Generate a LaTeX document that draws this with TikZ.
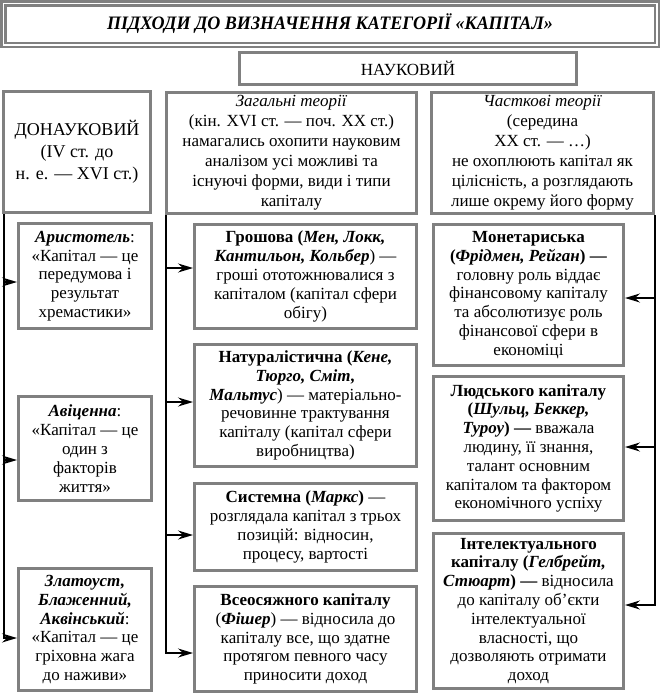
\documentclass[tikz,border=0pt]{standalone}
\usepackage{fontspec}
\setmainfont{Liberation Serif}
\usetikzlibrary{arrows.meta}
\definecolor{boxgray}{RGB}{128,128,128}
\begin{document}
\begin{tikzpicture}[x=1pt,y=-1pt,
  box/.style={draw=boxgray,line width=3pt,fill=white,align=center,inner sep=1pt,font=\fontsize{17}{18.8}\selectfont},
  head/.style={box,font=\fontsize{17}{20}\selectfont},
  conn/.style={-{Stealth[length=15pt,width=9pt,inset=5pt]},line width=1.4pt}]
 \useasboundingbox (0,0) rectangle (660,696);
 \node[draw=boxgray,line width=2.5pt,double=white,double distance=1.5pt,minimum width=653.5,minimum height=41.5,font=\fontsize{19}{22}\selectfont\bfseries\itshape] (title) at (330,24) {\scalebox{0.95}[1]{ПІДХОДИ ДО ВИЗНАЧЕННЯ КАТЕГОРІЇ «КАПІТАЛ»}};
 \node[head,minimum width=337,minimum height=32] (nauk) at (408,68.5) {НАУКОВИЙ};
 \node[head,minimum width=147,minimum height=121,font=\fontsize{18}{22}\selectfont] (don) at (77,152) {ДОНАУКОВИЙ\\(IV ст. до\\н. е. — XVI ст.)};
 \node[head,minimum width=250,minimum height=121] (gen) at (291.5,153) {\textit{Загальні теорії}\\(кін. XVI ст. — поч. XX ст.)\\намагались охопити науковим\\аналізом усі можливі та\\існуючі форми, види і типи\\капіталу};
 \node[head,minimum width=222,minimum height=121] (part) at (542.5,153) {\textit{Часткові теорії}\\(середина\\XX ст. — …)\\не охоплюють капітал як\\цілісність, а розглядають\\лише окрему його форму};
 \node[box,minimum width=133,minimum height=105] (arist) at (85,276) {\textbf{\textit{Аристотель}}:\\«Капітал — це\\передумова і\\результат\\хремастики»};
 \node[box,minimum width=133,minimum height=104] (avic) at (85,448.5) {\textbf{\textit{Авіценна}}:\\«Капітал — це\\один з\\факторів\\життя»};
 \node[box,minimum width=133,minimum height=122] (zlat) at (85,629.5) {\textbf{\textit{Златоуст,}}\\\textbf{\textit{Блаженний,}}\\\textbf{\textit{Аквінський}}:\\«Капітал — це\\гріховна жага\\до наживи»};
 \node[box,minimum width=222,minimum height=104] (money) at (305.5,276.5) {\textbf{Грошова (\textit{Мен, Локк,}}\\\textbf{\textit{Кантильон, Кольбер}}) —\\гроші ототожнювалися з\\капіталом (капітал сфери\\обігу)};
 \node[box,minimum width=222,minimum height=122] (nat) at (305.5,405.5) {\textbf{Натуралістична (\textit{Кене,}}\\\textbf{\textit{Тюрго, Сміт,}}\\\textbf{\textit{Мальтус}}) — матеріально-\\речовинне трактування\\капіталу (капітал сфери\\виробництва)};
 \node[box,minimum width=222,minimum height=87] (sys) at (305.5,527) {\textbf{Системна (\textit{Маркс})} —\\розглядала капітал з трьох\\позицій: відносин,\\процесу, вартості};
 \node[box,minimum width=222,minimum height=105] (whole) at (305.5,639) {\textbf{Всеосяжного капіталу}\\(\textbf{\textit{Фішер}}) — відносила до\\капіталу все, що здатне\\протягом певного часу\\приносити доход};
 \node[box,minimum width=190,minimum height=141] (mon) at (528.5,295) {\textbf{Монетариська}\\\textbf{(\textit{Фрідмен, Рейган}) —}\\головну роль віддає\\фінансовому капіталу\\та абсолютизує роль\\фінансової сфери в\\економіці};
 \node[box,minimum width=190,minimum height=144] (hum) at (528.5,448.5) {\textbf{Людського капіталу}\\\textbf{(\textit{Шульц, Беккер,}}\\\textbf{\textit{Туроу}) —} вважала\\людину, її знання,\\талант основним\\капіталом та фактором\\економічного успіху};
 \node[box,minimum width=190,minimum height=155] (intel) at (528.5,611) {\textbf{Інтелектуального}\\\textbf{капіталу (\textit{Гелбрейт,}}\\\textbf{\textit{Стюарт}) —} відносила\\до капіталу об’єкти\\інтелектуальної\\власності, що\\дозволяють отримати\\доход};
 \draw[conn] ([xshift=2]don.south west) |- ([yshift=-6]arist.west);
 \draw[conn] ([xshift=2]don.south west) |- ([yshift=-11.5]avic.west);
 \draw[conn] ([xshift=2]don.south west) |- ([yshift=-8.5]zlat.west);
 \draw[conn] ([xshift=1]gen.south west) |- ([yshift=8.5]money.west);
 \draw[conn] ([xshift=1]gen.south west) |- ([yshift=3.5]nat.west);
 \draw[conn] ([xshift=1]gen.south west) |- ([yshift=-8]sys.west);
 \draw[conn] ([xshift=1]gen.south west) |- ([yshift=-14]whole.west);
 \draw[conn] (part.south east) |- ([yshift=-3]mon.east);
 \draw[conn] (part.south east) |- ([yshift=1.5]hum.east);
 \draw[conn] (part.south east) |- ([yshift=6]intel.east);
\end{tikzpicture}
\end{document}
